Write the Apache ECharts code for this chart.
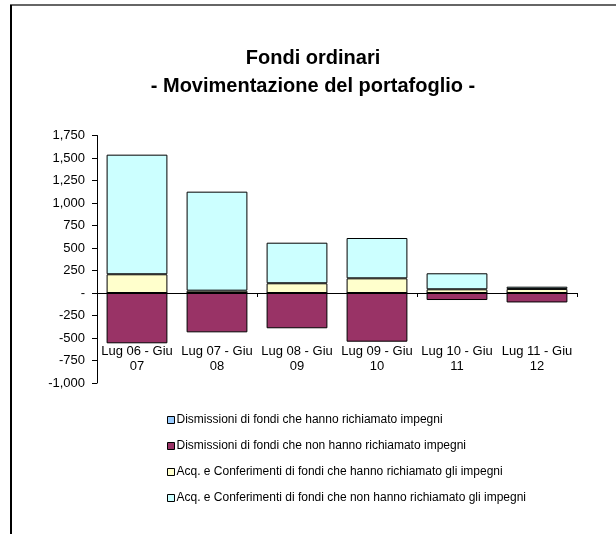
<!DOCTYPE html>
<html>
<head>
<meta charset="utf-8">
<style>
  html, body { margin: 0; padding: 0; background: #fff; }
  #chart { width: 616px; height: 534px; }
</style>
</head>
<body>
<div id="chart"></div>
<script src="https://cdn.jsdelivr.net/npm/echarts@6/dist/echarts.min.js"></script>
<script type="text/javascript">
    // dati
    var periodi = ['Lug 06 - Giu\n07', 'Lug 07 - Giu\n08', 'Lug 08 - Giu\n09', 'Lug 09 - Giu\n10', 'Lug 10 - Giu\n11', 'Lug 11 - Giu\n12'];
    var dismHanno = [0, 0, 0, 0, 0, 0];
    var dismNonHanno = [-559, -437, -392, -541, -78, -105];
    var acqHanno = [208, 26, 108, 163, 41, 45];
    var acqNonHanno = [1329, 1100, 451, 448, 178, 25];

    var nomi = [
        'Dismissioni di fondi che hanno richiamato impegni',
        'Dismissioni di fondi che non hanno richiamato impegni',
        'Acq. e Conferimenti di fondi che hanno richiamato gli impegni',
        'Acq. e Conferimenti di fondi che non hanno richiamato gli impegni'
    ];

    var font = 'Liberation Sans, Arial, sans-serif';
    var myChart = echarts.init(document.getElementById('chart'));

    function serie(nome, dati, colore) {
        return {
            name: nome,
            type: 'bar',
            stack: 'totale',
            xAxisIndex: 0,
            barWidth: '76%',
            data: dati,
            itemStyle: { color: colore, borderColor: '#000', borderWidth: 1 }
        };
    }

    var option = {
        animation: false,
        backgroundColor: '#fff',
        textStyle: { fontFamily: font },
        title: {
            text: 'Fondi ordinari\n- Movimentazione del portafoglio -',
            left: 308,
            textAlign: 'center',
            top: 39,
            textStyle: { fontFamily: font, fontSize: 20, fontWeight: 'bold', color: '#000', lineHeight: 28 }
        },
        legend: {
            orient: 'vertical',
            left: 162,
            top: 409,
            icon: 'rect',
            itemWidth: 7,
            itemHeight: 7,
            itemGap: 14,
            data: nomi,
            itemStyle: { borderColor: '#000', borderWidth: 1 },
            textStyle: { fontFamily: font, fontSize: 12, color: '#000', padding: [0, 0, 0, -3] }
        },
        grid: { left: 97, right: 39, top: 135.5, bottom: 151 },
        graphic: [
            { type: 'line', shape: { x1: 10, y1: 5, x2: 616, y2: 5 }, style: { stroke: '#666', lineWidth: 2 } },
            { type: 'line', shape: { x1: 11, y1: 5, x2: 11, y2: 534 }, style: { stroke: '#000', lineWidth: 2 } }
        ],
        xAxis: [
            {
                type: 'category',
                data: periodi,
                axisLine: { onZero: true, lineStyle: { color: '#000', width: 1 } },
                axisTick: { show: true, length: 4, lineStyle: { color: '#000' } },
                axisLabel: { show: false },
                splitLine: { show: false }
            },
            {
                type: 'category',
                data: periodi,
                position: 'bottom',
                axisLine: { show: false, onZero: false },
                axisTick: { show: false },
                axisLabel: { interval: 0, margin: -39, color: '#000', fontSize: 13, lineHeight: 15, fontFamily: font },
                splitLine: { show: false }
            }
        ],
        yAxis: {
            type: 'value',
            min: -1000,
            max: 1750,
            interval: 250,
            axisLine: { show: true, lineStyle: { color: '#000' } },
            axisTick: { show: true, length: 5, lineStyle: { color: '#000' } },
            splitLine: { show: false },
            axisLabel: {
                color: '#000',
                fontSize: 13,
                margin: 12,
                fontFamily: font,
                formatter: function (v) {
                    return v === 0 ? '-' : v.toLocaleString('en-US');
                }
            }
        },
        series: [
            serie(nomi[0], dismHanno, '#99CCFF'),
            serie(nomi[1], dismNonHanno, '#993366'),
            serie(nomi[2], acqHanno, '#FFFFCC'),
            serie(nomi[3], acqNonHanno, '#CCFFFF')
        ]
    };
    myChart.setOption(option);
</script>
</body>
</html>
